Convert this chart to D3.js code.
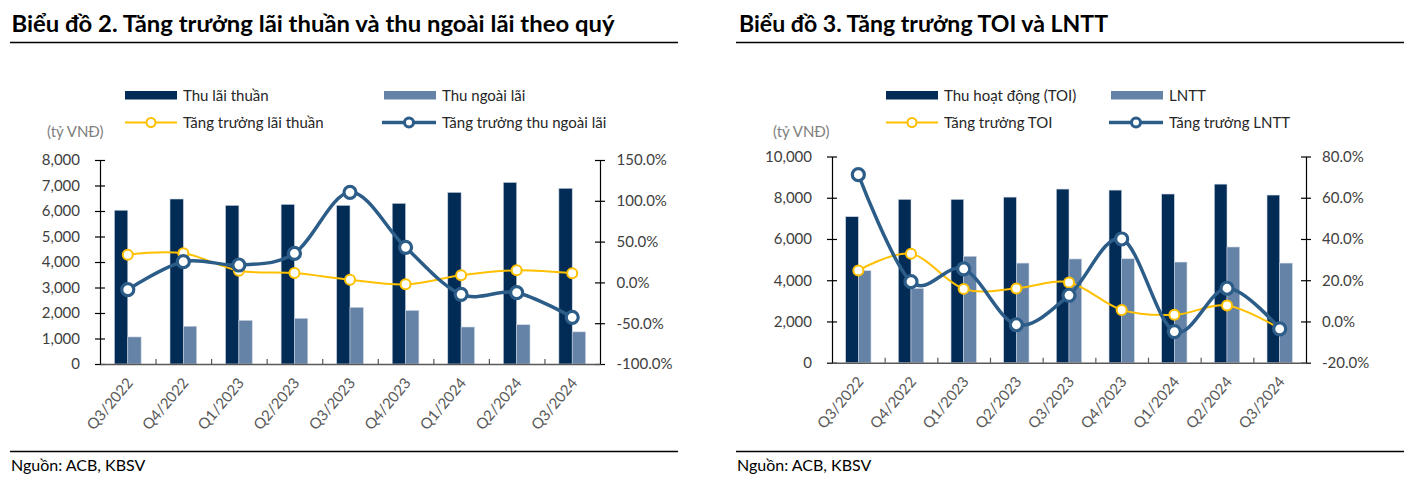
<!DOCTYPE html>
<html>
<head>
<meta charset="utf-8">
<script src="https://cdn.jsdelivr.net/npm/d3@7"></script>
<style>
  html, body { margin: 0; padding: 0; background: #fff; }
  svg { display: block; font-family: Lato, "Open Sans", "Noto Sans", sans-serif; }
</style>
</head>
<body>
<svg id="chart" width="1415" height="494"></svg>
<script>
// ---------- Data ----------
const categories = ["Q3/2022","Q4/2022","Q1/2023","Q2/2023","Q3/2023","Q4/2023","Q1/2024","Q2/2024","Q3/2024"];

// Chart 2
const netInterestIncome = [6030, 6470, 6220, 6260, 6220, 6300, 6730, 7120, 6890];
const nonInterestIncome = [1060, 1480, 1710, 1790, 2220, 2100, 1450, 1540, 1260];
const netInterestGrowth = [34.0, 35.6, 14.4, 11.5, 3.3, -2.4, 8.7, 14.8, 11.1];
const nonInterestGrowth = [-8.9, 25.4, 21.3, 35.6, 110.4, 43.0, -14.6, -12.6, -42.8];
const leftTicks2 = [0, 1000, 2000, 3000, 4000, 5000, 6000, 7000, 8000];
const rightTicks2 = [-100, -50, 0, 50, 100, 150];

// Chart 3
const toi = [7080, 7920, 7920, 8030, 8420, 8370, 8180, 8660, 8130];
const pbt = [4460, 3600, 5160, 4830, 5030, 5040, 4880, 5610, 4830];
const toiGrowth = [24.7, 32.8, 15.8, 16.0, 18.9, 5.6, 3.2, 7.7, -3.4];
const pbtGrowth = [71.2, 19.3, 25.5, -1.6, 12.7, 40.0, -4.9, 16.1, -3.6];
const leftTicks3 = [0, 2000, 4000, 6000, 8000, 10000];
const rightTicks3 = [-20, 0, 20, 40, 60, 80];

// ---------- Styles ----------
const C_DARK = "#022b55";
const C_LIGHT = "#6582a7";
const C_BLUE = "#2c5d89";
const C_YELLOW = "#ffc000";
const C_TEXT = "#404040";

const svg = d3.select("#chart");

function drawChart(cfg) {
  const g = svg.append("g");

  // Title
  g.append("text")
    .attr("x", cfg.titleX).attr("y", 31.5)
    .attr("font-size", 22).attr("font-weight", 700).attr("fill", "#000")
    .attr("textLength", cfg.titleLen).attr("lengthAdjust", "spacingAndGlyphs")
    .text(cfg.title);
  g.append("line")
    .attr("x1", cfg.ruleX0).attr("x2", cfg.ruleX1).attr("y1", 42.5).attr("y2", 42.5)
    .attr("stroke", "#000").attr("stroke-width", 1.3);

  // Source
  g.append("line")
    .attr("x1", cfg.ruleX0).attr("x2", cfg.ruleX1).attr("y1", 451.5).attr("y2", 451.5)
    .attr("stroke", "#000").attr("stroke-width", 1.3);
  g.append("text")
    .attr("x", cfg.ruleX0 + 1).attr("y", 471)
    .attr("font-size", 16).attr("fill", "#000")
    .text("Nguồn: ACB, KBSV");

  // Scales
  const x = d3.scaleBand().domain(cfg.categories).range([cfg.x0, cfg.x1]).padding(0);
  const xi = d3.scaleLinear().domain([0, cfg.categories.length]).range([cfg.x0, cfg.x1]);
  const yL = d3.scaleLinear().domain(cfg.leftDomain).range([cfg.yBottom, cfg.yTop]);
  const yR = d3.scaleLinear().domain(cfg.rightDomain).range([cfg.yBottom, cfg.yTop]);
  const bw = x.bandwidth() * 0.24;

  // Bars
  const idx = d3.range(cfg.categories.length);
  g.append("g").selectAll("rect").data(idx).join("rect")
    .attr("x", i => x(cfg.categories[i]) + x.bandwidth() / 2 - bw)
    .attr("width", bw)
    .attr("y", i => yL(cfg.bar1[i]))
    .attr("height", i => yL(0) - yL(cfg.bar1[i]))
    .attr("fill", C_DARK).attr("stroke", "#c9d3e0").attr("stroke-width", 0.6);
  g.append("g").selectAll("rect").data(idx).join("rect")
    .attr("x", i => x(cfg.categories[i]) + x.bandwidth() / 2)
    .attr("width", bw)
    .attr("y", i => yL(cfg.bar2[i]))
    .attr("height", i => yL(0) - yL(cfg.bar2[i]))
    .attr("fill", C_LIGHT).attr("stroke", "#c9d3e0").attr("stroke-width", 0.6);

  // Left axis
  const axL = g.append("g").attr("transform", `translate(${cfg.x0},0)`)
    .call(d3.axisLeft(yL).tickValues(cfg.leftTicks).tickFormat(d3.format(","))
      .tickSizeInner(5).tickSizeOuter(0).tickPadding(cfg.leftPad));
  axL.select(".domain").attr("stroke", "#000").attr("stroke-width", 1.2);
  axL.selectAll(".tick line").attr("x1", -5).attr("x2", 5).attr("stroke", "#000").attr("stroke-width", 1.2);
  axL.selectAll(".tick text").attr("font-size", 15).attr("fill", C_TEXT).attr("font-family", "Lato, sans-serif");

  // Right axis
  const axR = g.append("g").attr("transform", `translate(${cfg.x1},0)`)
    .call(d3.axisRight(yR).tickValues(cfg.rightTicks).tickFormat(d => d.toFixed(1) + "%")
      .tickSizeInner(5).tickSizeOuter(0).tickPadding(cfg.rightPad));
  axR.select(".domain").attr("stroke", "#000").attr("stroke-width", 1.2);
  axR.selectAll(".tick line").attr("x1", -5).attr("x2", 5).attr("stroke", "#000").attr("stroke-width", 1.2);
  axR.selectAll(".tick text").attr("font-size", 15).attr("fill", C_TEXT).attr("font-family", "Lato, sans-serif");

  // Bottom axis (boundary ticks, inside)
  const axB = g.append("g").attr("transform", `translate(0,${cfg.yBottom})`)
    .call(d3.axisBottom(xi).tickValues(d3.range(1, cfg.categories.length)).tickFormat("")
      .tickSizeInner(-5).tickSizeOuter(0));
  axB.select(".domain").attr("stroke", "#595959").attr("stroke-width", 1.5);
  axB.selectAll(".tick line").attr("stroke", "#595959").attr("stroke-width", 1.2);

  // Category labels
  const axC = g.append("g").attr("transform", `translate(0,${cfg.yBottom})`)
    .call(d3.axisBottom(x).tickSize(0).tickPadding(0));
  axC.select(".domain").remove();
  axC.selectAll(".tick text")
    .attr("font-size", 15).attr("fill", "#595959").attr("font-family", "Lato, sans-serif")
    .attr("text-anchor", "end")
    .attr("dy", "0.35em")
    .attr("transform", "translate(2,16) rotate(-50)")
    .attr("y", 0).attr("x", 0);

  // Lines
  const line = (ys) => d3.line()
    .x((d, i) => x(cfg.categories[i]) + x.bandwidth() / 2)
    .y(d => yR(d))
    .curve(d3.curveCardinal.tension(0))(ys);

  g.append("path").attr("d", line(cfg.line1))
    .attr("fill", "none").attr("stroke", C_YELLOW).attr("stroke-width", 2);
  g.append("g").selectAll("circle").data(cfg.line1).join("circle")
    .attr("cx", (d, i) => x(cfg.categories[i]) + x.bandwidth() / 2)
    .attr("cy", d => yR(d)).attr("r", 5)
    .attr("fill", "#fff").attr("stroke", C_YELLOW).attr("stroke-width", 2);

  g.append("path").attr("d", line(cfg.line2))
    .attr("fill", "none").attr("stroke", C_BLUE).attr("stroke-width", 3.5);
  g.append("g").selectAll("circle").data(cfg.line2).join("circle")
    .attr("cx", (d, i) => x(cfg.categories[i]) + x.bandwidth() / 2)
    .attr("cy", d => yR(d)).attr("r", 6)
    .attr("fill", "#fff").attr("stroke", C_BLUE).attr("stroke-width", 3.2);

  // Unit label
  g.append("text")
    .attr("x", cfg.unitX).attr("y", 137)
    .attr("font-size", 15).attr("fill", "#7f7f7f")
    .text("(tỷ VNĐ)");

  // Legend
  const L = cfg.legend;
  const leg = g.append("g").attr("font-size", 15).attr("fill", "#262626");
  leg.append("rect").attr("x", L.c1).attr("y", 91).attr("width", 52).attr("height", 8.5).attr("fill", C_DARK);
  leg.append("text").attr("x", L.c1 + 58).attr("y", 100.5).text(L.names[0]);
  leg.append("rect").attr("x", L.c2).attr("y", 91).attr("width", 52).attr("height", 8.5).attr("fill", C_LIGHT);
  leg.append("text").attr("x", L.c2 + 58).attr("y", 100.5).text(L.names[1]);
  leg.append("line").attr("x1", L.c1).attr("x2", L.c1 + 52).attr("y1", 122.5).attr("y2", 122.5)
    .attr("stroke", C_YELLOW).attr("stroke-width", 2);
  leg.append("circle").attr("cx", L.c1 + 26).attr("cy", 122.5).attr("r", 4.5)
    .attr("fill", "#fff").attr("stroke", C_YELLOW).attr("stroke-width", 2);
  leg.append("text").attr("x", L.c1 + 58).attr("y", 128).text(L.names[2]);
  leg.append("line").attr("x1", L.c2 - 2).attr("x2", L.c2 + 52).attr("y1", 122.5).attr("y2", 122.5)
    .attr("stroke", C_BLUE).attr("stroke-width", 3.5);
  leg.append("circle").attr("cx", L.c2 + 25).attr("cy", 122.5).attr("r", 4.5)
    .attr("fill", "#fff").attr("stroke", C_BLUE).attr("stroke-width", 3);
  leg.append("text").attr("x", L.c2 + 58).attr("y", 128).text(L.names[3]);
}

drawChart({
  title: "Biểu đồ 2. Tăng trưởng lãi thuần và thu ngoài lãi theo quý",
  titleX: 11.5, titleLen: 603,
  ruleX0: 10, ruleX1: 678,
  categories: categories,
  x0: 100, x1: 600, yTop: 160, yBottom: 364,
  leftDomain: [0, 8000], rightDomain: [-100, 150],
  leftTicks: leftTicks2, rightTicks: rightTicks2,
  leftPad: 15, rightPad: 11.5,
  bar1: netInterestIncome, bar2: nonInterestIncome,
  line1: netInterestGrowth, line2: nonInterestGrowth,
  unitX: 47,
  legend: { c1: 125, c2: 384, names: ["Thu lãi thuần", "Thu ngoài lãi", "Tăng trưởng lãi thuần", "Tăng trưởng thu ngoài lãi"] }
});

drawChart({
  title: "Biểu đồ 3. Tăng trưởng TOI và LNTT",
  titleX: 739, titleLen: 369,
  ruleX0: 736, ruleX1: 1404,
  categories: categories,
  x0: 832, x1: 1306, yTop: 156.5, yBottom: 362.7,
  leftDomain: [0, 10000], rightDomain: [-20, 80],
  leftTicks: leftTicks3, rightTicks: rightTicks3,
  leftPad: 15, rightPad: 11,
  bar1: toi, bar2: pbt,
  line1: toiGrowth, line2: pbtGrowth,
  unitX: 773,
  legend: { c1: 886, c2: 1111, names: ["Thu hoạt động (TOI)", "LNTT", "Tăng trưởng TOI", "Tăng trưởng LNTT"] }
});
</script>
</body>
</html>
